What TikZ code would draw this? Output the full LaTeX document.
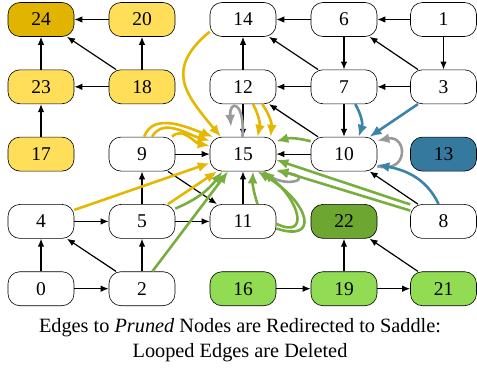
\documentclass[tikz,border=0pt]{standalone}
\usepackage{fontspec}
\setmainfont{Liberation Serif}
\usetikzlibrary{arrows.meta,calc}
\definecolor{gold}{HTML}{E0B400}
\definecolor{lyel}{HTML}{FFDE59}
\definecolor{bfill}{HTML}{357A9E}
\definecolor{dgreen}{HTML}{6EA632}
\definecolor{lgreen}{HTML}{91DC52}
\definecolor{yedge}{HTML}{E5B700}
\definecolor{gedge}{HTML}{77AE3E}
\definecolor{bedge}{HTML}{3A84A8}
\definecolor{grayedge}{HTML}{9A9A9A}
\begin{document}
\begin{tikzpicture}[x=1pt,y=1pt,
  nd/.style={draw=black,line width=0.6pt,rounded corners=12pt,minimum width=66pt,minimum height=34pt,inner sep=0pt,font=\fontsize{19.5}{23}\selectfont,fill=white},
  ar/.style={-{Latex[length=8pt,width=6.5pt]},line width=1.2pt},
  ce/.style={line width=2.6pt,-{Latex[length=12pt,width=10pt]}},
  ye/.style={ce,color=yedge},
  ge/.style={ce,color=gedge},
  be/.style={ce,color=bedge},
  ga/.style={ce,color=grayedge},
  captext/.style={font=\fontsize{20.3}{24}\selectfont,anchor=base,inner sep=0pt}]
\useasboundingbox (0,0) rectangle (477,368);
% row 0
\node[nd,fill=gold] (n24) at (41,348.5) {24};
\node[nd,fill=lyel] (n20) at (142,348.5) {20};
\node[nd] (n14) at (243,348.5) {14};
\node[nd] (n6) at (344,348.5) {6};
\node[nd] (n1) at (443.5,348.5) {1};
% row 1
\node[nd,fill=lyel] (n23) at (41,281.2) {23};
\node[nd,fill=lyel] (n18) at (142,281.2) {18};
\node[nd] (n12) at (243,281.2) {12};
\node[nd] (n7) at (344,281.2) {7};
\node[nd] (n3) at (443.5,281.2) {3};
% row 2
\node[nd,fill=lyel] (n17) at (41,213.9) {17};
\node[nd] (n9) at (142,213.9) {9};
\node[nd] (n15) at (243,213.9) {15};
\node[nd] (n10) at (344,213.9) {10};
\node[nd,fill=bfill] (n13) at (443.5,213.9) {13};
% row 3
\node[nd] (n4) at (41,146.6) {4};
\node[nd] (n5) at (142,146.6) {5};
\node[nd] (n11) at (243,146.6) {11};
\node[nd,fill=dgreen] (n22) at (344,146.6) {22};
\node[nd] (n8) at (443.5,146.6) {8};
% row 4
\node[nd] (n0) at (41,79.3) {0};
\node[nd] (n2) at (142,79.3) {2};
\node[nd,fill=lgreen] (n16) at (243,79.3) {16};
\node[nd,fill=lgreen] (n19) at (344,79.3) {19};
\node[nd,fill=lgreen] (n21) at (443.5,79.3) {21};
% black edges
\foreach \a/\b in {20/24,18/20,18/23,18/24,23/24,17/23,6/14,1/6,1/3,6/7,7/12,3/7,12/14,7/14,3/6,7/10,12/15,10/15,10/12,9/15,9/11,5/9,5/11,11/15,4/5,0/4,0/2,2/4,2/5,8/10,16/19,19/22,19/21,21/22}
  \draw[ar] (n\a) -- (n\b);
% yellow
\draw[ye] (n14.200) to[out=220,in=130,looseness=1.4] (n15.142);
\draw[ye] (n9.83) to[out=70,in=160] (n15.150);
\draw[ye] (n9.60) to[out=60,in=165] (n15.158);
\draw[ye] (n9.30) to[out=45,in=170] (n15.166);
\draw[ye] (n12.300) to[bend left=20] (n15.50);
\draw[ye] (n12.318) to[bend left=20] (n15.32);
\draw[ye] (n4.19) -- (n15.195);
\draw[ye] (n5) -- (n15);
% gray loops
\coordinate (g15) at ($(n15.north)+(-12,10)$);
\draw[ga] (n15.92) .. controls +(3,35) and +(-2,28) .. (g15);
\draw[ga] (n15.-40) .. controls (283,177) and (318,190) .. (n15.-27);
\draw[ga] (n10.-20) .. controls +(32,-8) and +(30,6) .. (n10.22);
% green
\draw[ge] (n5.21) to[bend right=15] (n15.220);
\draw[ge] (n2.59) -- (n15.229);
\draw[ge] (n11.50) to[bend left=10] (n15.-60);
\draw[ge] (n11.-12) .. controls (320,125) and (310,165) .. (n15.-50);
\draw[ge] (n11.-4) .. controls (310,128) and (300,168) .. (n15.-42);
\draw[ge] (n10.159) to[bend right=15] (n15.21);
\draw[ge] (n8.153) -- (n15.-10);
\draw[ge] (n8.162) -- (n15.-25);
% blue
\draw[be] (n7.303) to[bend left=25] (n10.50);
\draw[be] (n3) -- (n10);
\draw[be] (n8.106) to[out=115,in=-10] (n10.-18);
% caption
\node[captext] (c1) at (240,36) {Edges to \textit{Pruned} Nodes are Redirected to Saddle:};
\node[captext] (c2) at (240,11) {Looped Edges are Deleted};
\end{tikzpicture}
\end{document}
